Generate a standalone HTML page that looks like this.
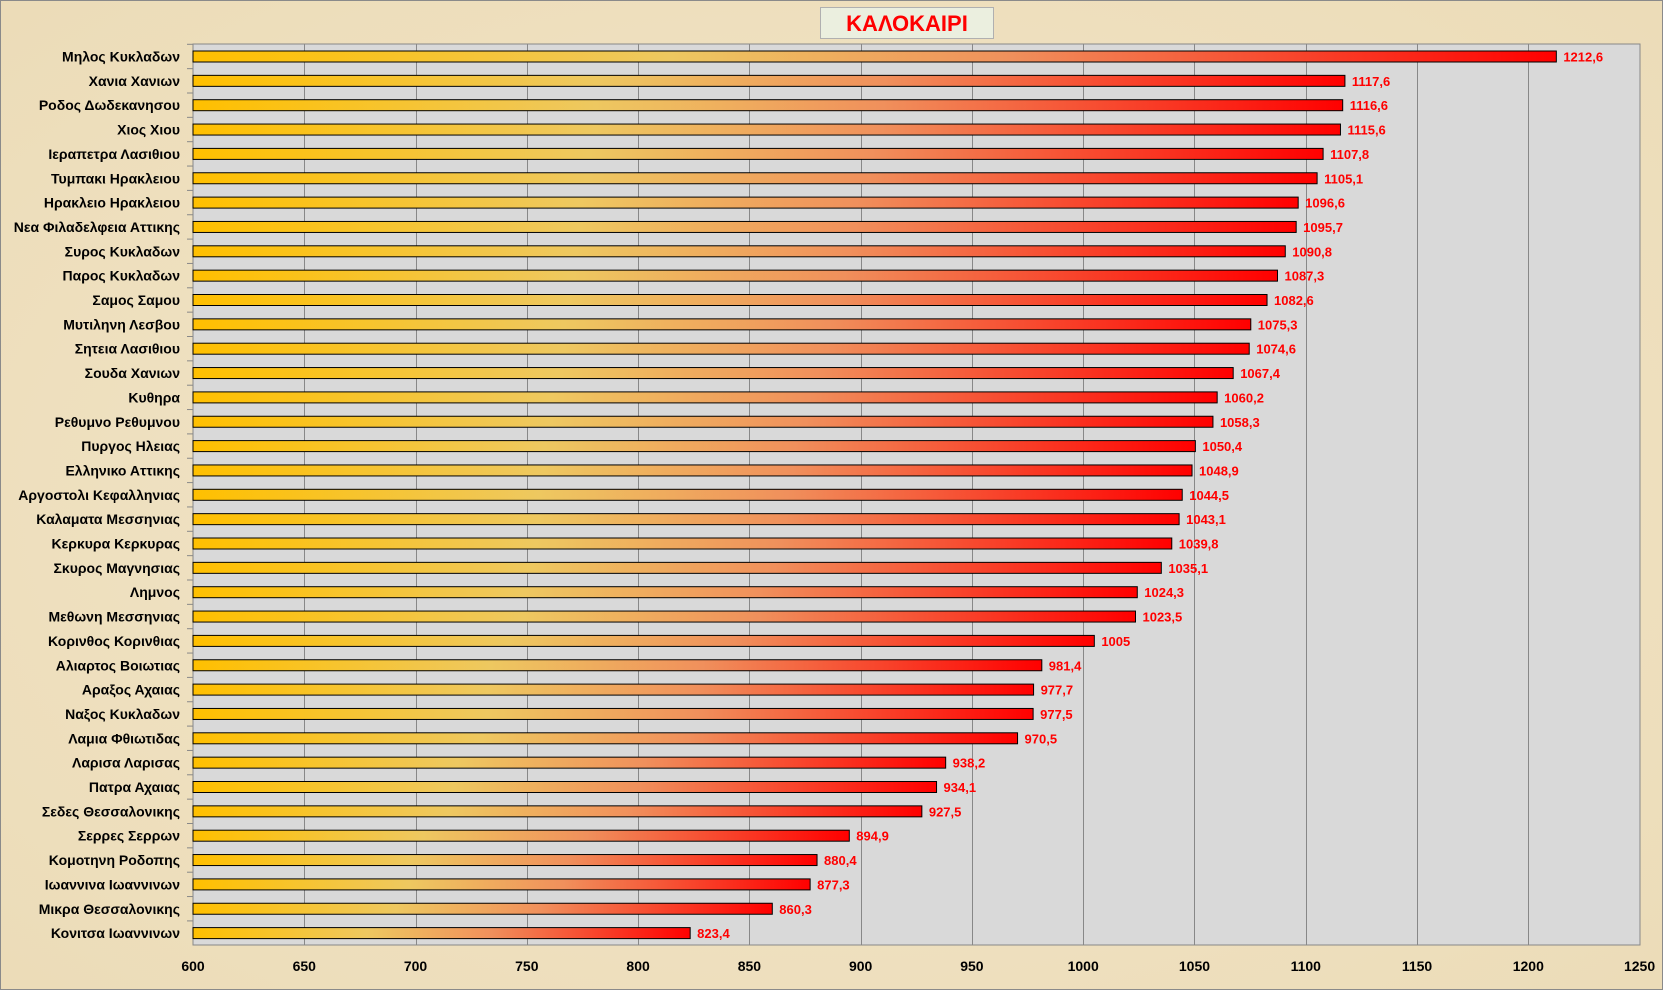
<!DOCTYPE html>
<html><head><meta charset="utf-8"><style>
html,body{margin:0;padding:0;width:1663px;height:990px;overflow:hidden}
body{background:#efe2c3;font-family:"Liberation Sans","DejaVu Sans",sans-serif}
</style></head><body>
<svg id="s" width="1663" height="990" xmlns="http://www.w3.org/2000/svg">
<defs>
<radialGradient id="bg" cx="50%" cy="50%" r="70%"><stop offset="0" stop-color="#f2e6ca"/><stop offset="1" stop-color="#ecdcb8"/></radialGradient>
<linearGradient id="bar" x1="0" x2="1" y1="0" y2="0">
<stop offset="0" stop-color="#ffc000"/><stop offset="0.35" stop-color="#eec860"/><stop offset="0.6" stop-color="#f0905c"/><stop offset="1" stop-color="#ff0000"/></linearGradient>
</defs>
<rect x="0.5" y="0.5" width="1662" height="989" fill="url(#bg)" stroke="#8a8a8a"/>
<rect x="193" y="44" width="1447" height="901" fill="#d9d9d9" stroke="#888"/>
<g id="g"></g>
<rect x="820.5" y="7.5" width="173" height="31" fill="#ebefdf" stroke="#b0b0b0"/>
<text x="907" y="31" text-anchor="middle" font-size="22" font-weight="bold" fill="#ff0000">ΚΑΛΟΚΑΙΡΙ</text>
</svg>
<script>
var d=[["Μηλος Κυκλαδων",1212.6],["Χανια Χανιων",1117.6],["Ροδος Δωδεκανησου",1116.6],["Χιος Χιου",1115.6],["Ιεραπετρα  Λασιθιου",1107.8],["Τυμπακι Ηρακλειου",1105.1],["Ηρακλειο Ηρακλειου",1096.6],["Νεα Φιλαδελφεια Αττικης",1095.7],["Συρος Κυκλαδων",1090.8],["Παρος Κυκλαδων",1087.3],["Σαμος Σαμου",1082.6],["Μυτιληνη Λεσβου",1075.3],["Σητεια Λασιθιου",1074.6],["Σουδα Χανιων",1067.4],["Κυθηρα ",1060.2],["Ρεθυμνο Ρεθυμνου",1058.3],["Πυργος Ηλειας",1050.4],["Ελληνικο Αττικης",1048.9],["Αργοστολι Κεφαλληνιας",1044.5],["Καλαματα Μεσσηνιας",1043.1],["Κερκυρα Κερκυρας",1039.8],["Σκυρος Μαγνησιας",1035.1],["Λημνος ",1024.3],["Μεθωνη Μεσσηνιας",1023.5],["Κορινθος Κορινθιας",1005],["Αλιαρτος Βοιωτιας",981.4],["Αραξος Αχαιας",977.7],["Ναξος Κυκλαδων",977.5],["Λαμια Φθιωτιδας",970.5],["Λαρισα Λαρισας",938.2],["Πατρα Αχαιας",934.1],["Σεδες Θεσσαλονικης",927.5],["Σερρες Σερρων",894.9],["Κομοτηνη Ροδοπης",880.4],["Ιωαννινα Ιωαννινων",877.3],["Μικρα Θεσσαλονικης",860.3],["Κονιτσα Ιωαννινων",823.4]];
var h='',X=function(v){return 193+(v-600)*2.2255};
for(var t=650;t<=1200;t+=50){var x=Math.round(X(t))+.5;h+='<line x1="'+x+'" x2="'+x+'" y1="44" y2="945" stroke="#888"/>';}
for(var t=600;t<=1250;t+=50)h+='<text x="'+X(t)+'" y="971" text-anchor="middle" font-size="14" font-weight="bold" fill="#000">'+t+'</text>';
for(var i=0;i<d.length;i++){var c=56.5+i*24.35,w=X(d[i][1])-193;
h+='<line x1="187" x2="193" y1="'+(c-12.2)+'" y2="'+(c-12.2)+'" stroke="#888"/>';
h+='<rect x="193" y="'+(c-5.5)+'" width="'+w+'" height="11" fill="url(#bar)" stroke="#000" stroke-width="1"/>';
h+='<text x="180" y="'+(c+5)+'" text-anchor="end" font-size="14" font-weight="bold" fill="#000">'+d[i][0]+'</text>';
h+='<text x="'+(193+w+7)+'" y="'+(c+5)+'" font-size="13" font-weight="bold" fill="#ff0000">'+String(d[i][1]).replace('.',',')+'</text>';}
document.getElementById('g').innerHTML=h;
</script>
</body></html>
